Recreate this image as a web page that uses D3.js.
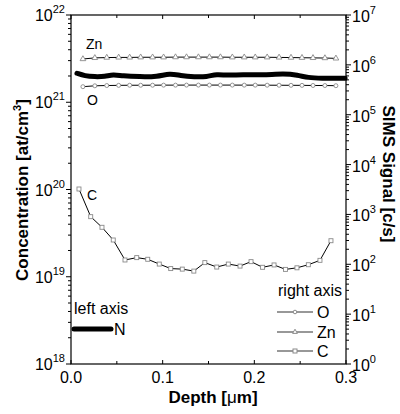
<!DOCTYPE html>
<html><head><meta charset="utf-8">
<script src="https://cdn.jsdelivr.net/npm/d3@7"></script>
<style>
body{margin:0;background:#fff;}
text{font-family:"Liberation Sans",Arial,sans-serif;fill:#000;}
</style></head>
<body><svg id="c" width="400" height="414"></svg>
<script>
// ---- data ----
const depthZnO = [0.013,0.026,0.039,0.052,0.064,0.076,0.089,0.101,0.114,0.126,0.139,0.151,0.163,0.176,0.189,0.201,0.214,0.227,0.240,0.252,0.264,0.277,0.289];
const znSignal = [1.31e6,1.38e6,1.40e6,1.41e6,1.41e6,1.42e6,1.42e6,1.42e6,1.43e6,1.43e6,1.43e6,1.43e6,1.43e6,1.42e6,1.42e6,1.42e6,1.42e6,1.41e6,1.40e6,1.39e6,1.38e6,1.37e6,1.35e6];
const oSignal  = [3.65e5,3.80e5,3.85e5,3.88e5,3.90e5,3.90e5,3.91e5,3.92e5,3.92e5,3.93e5,3.93e5,3.93e5,3.93e5,3.93e5,3.92e5,3.92e5,3.91e5,3.90e5,3.89e5,3.88e5,3.86e5,3.85e5,3.82e5];
const depthC   = [0.0087,0.0215,0.0338,0.0461,0.0589,0.0717,0.0837,0.0963,0.1088,0.1214,0.134,0.146,0.159,0.1716,0.1844,0.1964,0.209,0.2215,0.234,0.2465,0.2589,0.2716,0.2836];
const cSignal  = [3236,902,552,307,122,136,126,101,82,80,73,108,88,101,92,113,87,97,79,85,98,120,297];
const depthN   = [0.0065,0.015,0.026,0.037,0.046,0.056,0.075,0.094,0.108,0.119,0.135,0.148,0.159,0.171,0.187,0.208,0.233,0.247,0.259,0.272,0.299];
const nConc    = [2.15e21,2.0e21,1.96e21,1.97e21,2.09e21,2.0e21,1.96e21,1.96e21,2.15e21,2.02e21,1.95e21,1.95e21,2.11e21,2.02e21,2.09e21,2.05e21,2.13e21,2.05e21,1.91e21,1.88e21,1.88e21];
const xTicks = [0, 0.1, 0.2, 0.3];
const xMinor = [0.05, 0.15, 0.25];
const leftExp = [18,19,20,21,22];
const rightExp = [0,1,2,3,4,5,6,7];

// ---- layout ----
const L=71,R=346,T=15,B=364;
const svg=d3.select("#c");
const x=d3.scaleLinear().domain([0,0.3]).range([L,R]);
const yL=d3.scaleLog().domain([1e18,1e22]).range([B,T]);
const yR=d3.scaleLog().domain([1,1e7]).range([B,T]);

// frame
svg.append("rect").attr("x",L).attr("y",T).attr("width",R-L).attr("height",B-T)
  .attr("fill","none").attr("stroke","#000").attr("stroke-width",1.2);

function minorLog(lo,hi){const a=[];for(let e=lo;e<hi;e++)for(let m=2;m<=9;m++)a.push(m*Math.pow(10,e));return a;}

// left axis ticks (outward)
const gl=svg.append("g");
leftExp.forEach(e=>{const yy=yL(Math.pow(10,e));
  gl.append("line").attr("x1",L-5).attr("x2",L).attr("y1",yy).attr("y2",yy).attr("stroke","#000");
  const t=gl.append("text").attr("x",L-6).attr("y",yy+6).attr("text-anchor","end").attr("font-size",16);
  t.append("tspan").text("10");
  t.append("tspan").attr("dy",-8).attr("font-size",11).text(e);
});
minorLog(18,22).forEach(v=>{const yy=yL(v);
  gl.append("line").attr("x1",L-3).attr("x2",L).attr("y1",yy).attr("y2",yy).attr("stroke","#000");});

// right axis ticks (outward)
const gr=svg.append("g");
rightExp.forEach(e=>{const yy=yR(Math.pow(10,e));
  gr.append("line").attr("x1",R).attr("x2",R+5).attr("y1",yy).attr("y2",yy).attr("stroke","#000");
  const t=gr.append("text").attr("x",R+6).attr("y",yy+7).attr("text-anchor","start").attr("font-size",16);
  t.append("tspan").text("10");
  t.append("tspan").attr("dy",-8).attr("font-size",11).text(e);
});
minorLog(0,7).forEach(v=>{const yy=yR(v);
  gr.append("line").attr("x1",R).attr("x2",R+3).attr("y1",yy).attr("y2",yy).attr("stroke","#000");});

// bottom & top ticks (inward)
const gx=svg.append("g");
xTicks.forEach(v=>{const xx=x(v);
  gx.append("line").attr("x1",xx).attr("x2",xx).attr("y1",B).attr("y2",B-4).attr("stroke","#000");
  gx.append("line").attr("x1",xx).attr("x2",xx).attr("y1",T).attr("y2",T+4).attr("stroke","#000");
  gx.append("text").attr("x",xx).attr("y",B+19).attr("text-anchor","middle").attr("font-size",16).text(v.toFixed(1));
});
xMinor.forEach(v=>{const xx=x(v);
  gx.append("line").attr("x1",xx).attr("x2",xx).attr("y1",B).attr("y2",B-3).attr("stroke","#000");
  gx.append("line").attr("x1",xx).attr("x2",xx).attr("y1",T).attr("y2",T+3).attr("stroke","#000");
});

// axis titles
svg.append("text").attr("x",213).attr("y",403).attr("text-anchor","middle")
  .attr("font-size",17).attr("font-weight","bold")
  .html('Depth [<tspan font-weight="normal">&#956;</tspan>m]');
const lt=svg.append("text").attr("transform","translate(28,190) rotate(-90)").attr("text-anchor","middle")
  .attr("font-size",17).attr("font-weight","bold");
lt.append("tspan").text("Concentration [at/cm");
lt.append("tspan").attr("dy",-7).attr("font-size",11).text("3");
lt.append("tspan").attr("dy",7).text("]");
svg.append("text").attr("transform","translate(383,174) rotate(90)").attr("text-anchor","middle")
  .attr("font-size",17).attr("font-weight","bold").text("SIMS Signal [c/s]");

// ---- series ----
const lineR=(xs)=>d3.line().x((d,i)=>x(xs[i])).y(d=>yR(d));
const plot=svg.append("g");
plot.append("path").datum(nConc).attr("fill","none").attr("stroke","#000").attr("stroke-width",5)
  .attr("stroke-linecap","round")
  .attr("d",d3.line().x((d,i)=>x(depthN[i])).y(d=>yL(d)).curve(d3.curveBasis));
[[znSignal,depthZnO],[oSignal,depthZnO],[cSignal,depthC]].forEach(([s,xs])=>{
  plot.append("path").datum(s).attr("fill","none").attr("stroke","#000").attr("stroke-width",1).attr("d",lineR(xs));
});
const mk={stroke:"#8a8a8a",fill:"#fff"};
plot.selectAll(".zn").data(znSignal).enter().append("path")
  .attr("d",d3.symbol(d3.symbolTriangle,14)()).attr("transform",(d,i)=>`translate(${x(depthZnO[i])},${yR(d)})`)
  .attr("fill",mk.fill).attr("stroke",mk.stroke).attr("stroke-width",0.9);
plot.selectAll(".o").data(oSignal).enter().append("circle")
  .attr("cx",(d,i)=>x(depthZnO[i])).attr("cy",d=>yR(d)).attr("r",2)
  .attr("fill",mk.fill).attr("stroke",mk.stroke).attr("stroke-width",0.9);
plot.selectAll(".c").data(cSignal).enter().append("rect")
  .attr("x",(d,i)=>x(depthC[i])-2).attr("y",d=>yR(d)-2).attr("width",4).attr("height",4)
  .attr("fill",mk.fill).attr("stroke",mk.stroke).attr("stroke-width",0.9);

// in-plot labels
svg.append("text").attr("x",86).attr("y",49).attr("font-size",14).text("Zn");
svg.append("text").attr("x",87).attr("y",105).attr("font-size",14).text("O");
svg.append("text").attr("x",87).attr("y",200).attr("font-size",14).text("C");

// legend left
svg.append("text").attr("x",74).attr("y",314).attr("font-size",16).text("left axis");
svg.append("line").attr("x1",74).attr("x2",111).attr("y1",329).attr("y2",329).attr("stroke","#000").attr("stroke-width",5).attr("stroke-linecap","round");
svg.append("text").attr("x",114).attr("y",335).attr("font-size",16).text("N");

// legend right
svg.append("text").attr("x",278).attr("y",296).attr("font-size",16).text("right axis");
const leg=[["O","circle",312],["Zn","tri",332],["C","sq",351]];
leg.forEach(([lab,sh,yy])=>{
  svg.append("line").attr("x1",277).attr("x2",313).attr("y1",yy).attr("y2",yy).attr("stroke","#333").attr("stroke-width",1.2);
  if(sh==="circle") svg.append("circle").attr("cx",295).attr("cy",yy).attr("r",1.8).attr("fill","#fff").attr("stroke",mk.stroke);
  if(sh==="tri") svg.append("path").attr("d",d3.symbol(d3.symbolTriangle,10)()).attr("transform",`translate(295,${yy})`).attr("fill","#fff").attr("stroke",mk.stroke);
  if(sh==="sq") svg.append("rect").attr("x",293).attr("y",yy-2).attr("width",4).attr("height",4).attr("fill","#fff").attr("stroke",mk.stroke);
  svg.append("text").attr("x",317).attr("y",yy+6).attr("font-size",16).text(lab);
});
</script></body></html>
